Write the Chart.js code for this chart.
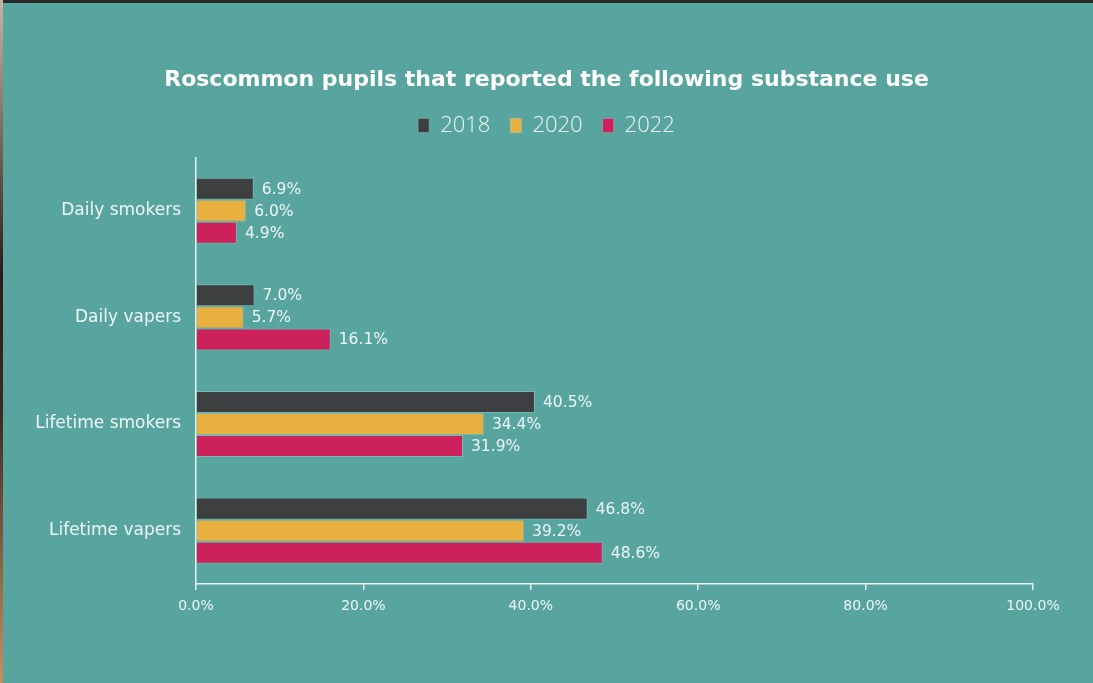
<!DOCTYPE html>
<html>
<head>
<meta charset="utf-8">
<script src="https://cdn.jsdelivr.net/npm/chart.js@4.4.1/dist/chart.umd.min.js"></script>
<style>
  html, body { margin: 0; padding: 0; background: #58a5a0; overflow: hidden; }
  #wrap { position: absolute; left: 0; top: 0; width: 1093px; height: 683px; }
  #topEdge { position: absolute; left: 0; top: 0; width: 1093px; height: 3px; background: #2a2a2a; z-index: 2; }
  #leftEdge { position: absolute; left: 0; top: 0; width: 3px; height: 683px; background: linear-gradient(#c8b4a4, #2a1e18 40%, #3a2a22 60%, #c89060); z-index: 2; }
</style>
</head>
<body>
<div id="topEdge"></div>
<div id="leftEdge"></div>
<div id="wrap"><canvas id="c" width="1093" height="683"></canvas></div>
<script>
const categories = ["Daily smokers", "Daily vapers", "Lifetime smokers", "Lifetime vapers"];
const seriesNames = ["2018", "2020", "2022"];
const values2018 = [6.9, 7.0, 40.5, 46.8];
const values2020 = [6.0, 5.7, 34.4, 39.2];
const values2022 = [4.9, 16.1, 31.9, 48.6];
const xTicks = [0, 20, 40, 60, 80, 100];
const chartTitle = "Roscommon pupils that reported the following substance use";

const FONT = "'DejaVu Sans', 'Open Sans', sans-serif";
const LIGHT = "'Open Sans', 'DejaVu Sans', sans-serif";
const TEXT = "#eef5f4";

const valueLabels = {
  id: 'valueLabels',
  afterDatasetsDraw(chart) {
    const ctx = chart.ctx;
    ctx.save();
    ctx.font = "15.5px " + FONT;
    ctx.fillStyle = TEXT;
    ctx.textAlign = 'left';
    ctx.textBaseline = 'middle';
    chart.data.datasets.forEach((ds, i) => {
      const meta = chart.getDatasetMeta(i);
      meta.data.forEach((bar, j) => {
        ctx.fillText(ds.data[j].toFixed(1) + '%', bar.x + 8, bar.y + 1);
      });
    });
    ctx.restore();
  }
};

const legendGap = {
  id: 'legendGap',
  afterInit(chart) {
    const lg = chart.legend;
    if (lg && !lg._patched) {
      const orig = lg.fit;
      lg.fit = function () { orig.call(this); this.height += 11; };
      lg._patched = true;
    }
  }
};

const barBorder = 'rgba(220,235,233,0.25)';

new Chart(document.getElementById('c'), {
  type: 'bar',
  data: {
    labels: categories,
    datasets: [
      { label: seriesNames[0], data: values2018, backgroundColor: '#3d3f41', borderColor: barBorder, borderWidth: 1, yAxisID: 'y' },
      { label: seriesNames[1], data: values2020, backgroundColor: '#e8b03e', borderColor: barBorder, borderWidth: 1, yAxisID: 'y' },
      { label: seriesNames[2], data: values2022, backgroundColor: '#cc215a', borderColor: barBorder, borderWidth: 1, yAxisID: 'y' }
    ]
  },
  options: {
    indexAxis: 'y',
    responsive: false,
    animation: false,
    devicePixelRatio: 1,
    layout: { padding: { left: 0, right: 0, top: 0, bottom: 0 } },
    datasets: { bar: { categoryPercentage: 0.62, barPercentage: 1.0 } },
    plugins: {
      title: {
        display: true,
        text: chartTitle,
        color: '#ffffff',
        font: { family: FONT, size: 22, weight: 'bold' },
        padding: { top: 67, bottom: 1 }
      },
      legend: {
        display: true,
        position: 'top',
        labels: {
          color: TEXT,
          font: { family: LIGHT, size: 22, weight: '300' },
          boxWidth: 11,
          boxHeight: 14,
          padding: 20,
          useBorderRadius: false
        }
      },
      tooltip: { enabled: false }
    },
    scales: {
      x: {
        min: 0,
        max: 100,
        afterBuildTicks(scale) { scale.ticks = xTicks.map(v => ({ value: v })); },
        afterFit(scale) { scale.height = 683 - 584; },
        grid: { display: true, drawOnChartArea: false, drawTicks: true, tickLength: 6, color: '#e8f2f1', lineWidth: 1.5 },
        border: { display: true, color: '#e8f2f1', width: 1.5 },
        ticks: {
          color: TEXT,
          font: { family: FONT, size: 14 },
          padding: 8,
          maxRotation: 0,
          callback: (v) => Number(v).toFixed(1) + '%'
        }
      },
      y: {
        position: 'left',
        afterFit(scale) { scale.width = 196; },
        grid: { display: false, drawTicks: false },
        border: { display: true, color: '#e8f2f1', width: 1.5 },
        ticks: {
          color: TEXT,
          font: { family: FONT, size: 17 },
          padding: 15
        }
      },
      yRight: {
        type: 'category',
        labels: categories,
        position: 'right',
        display: true,
        afterFit(scale) { scale.width = 60; },
        grid: { display: false, drawTicks: false },
        border: { display: false },
        ticks: { display: false }
      }
    }
  },
  plugins: [valueLabels, legendGap]
});
</script>
</body>
</html>
